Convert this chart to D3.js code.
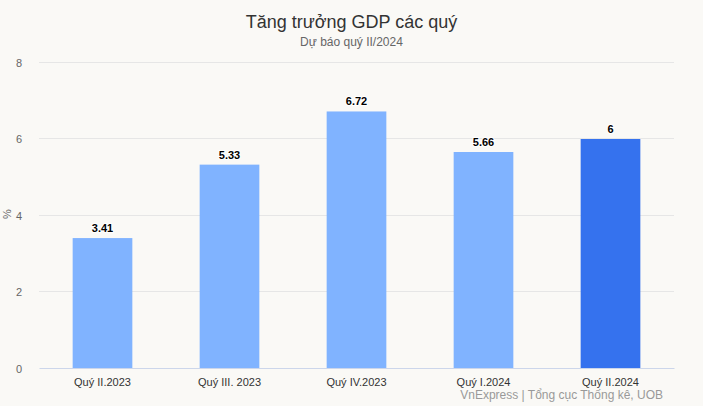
<!DOCTYPE html>
<html><head><meta charset="utf-8">
<script src="https://cdn.jsdelivr.net/npm/d3@7"></script>
<style>body{margin:0;background:#faf9f6;font-family:"Liberation Sans",Arial,sans-serif;}</style>
</head><body><svg id="c" width="703" height="406"></svg>
<script>
const categories = ["Quý II.2023","Quý III. 2023","Quý IV.2023","Quý I.2024","Quý II.2024"];
const values = [3.41, 5.33, 6.72, 5.66, 6];
const labels = ["3.41","5.33","6.72","5.66","6"];
const yTicks = [0,2,4,6,8];
const barColors = ["#80b3ff","#80b3ff","#80b3ff","#80b3ff","#3572ee"];

(function(){
const svg = d3.select("#c");
svg.append("rect").attr("width",703).attr("height",406).attr("fill","#faf9f6");
const mL = 39, mR = 674, mT = 62.5, mB = 368.5;
const x = d3.scaleBand().domain(categories).range([mL,mR]).paddingInner(0.53).paddingOuter(0.265);
const y = d3.scaleLinear().domain([0,8]).range([mB,mT]);

svg.append("g").selectAll("line").data(yTicks.filter(d=>d>0)).join("line")
  .attr("x1",mL).attr("x2",mR).attr("y1",d=>Math.round(y(d))-0.5).attr("y2",d=>Math.round(y(d))-0.5)
  .attr("stroke","#e6e6e6").attr("stroke-width",1);

const yAxis = svg.append("g").attr("transform",`translate(${mL},0)`)
  .call(d3.axisLeft(y).tickValues(yTicks).tickSize(0).tickPadding(17));
yAxis.select(".domain").remove();
yAxis.selectAll("text").attr("fill","#666").style("font-size","11px").style("font-family","Liberation Sans, Arial");

svg.append("text").attr("transform","translate(11,214) rotate(-90)").attr("text-anchor","middle")
  .attr("fill","#666").style("font-size","11px").text("%");

svg.append("g").selectAll("rect").data(values).join("rect")
  .attr("x",(d,i)=>x(categories[i])).attr("width",x.bandwidth())
  .attr("y",d=>y(d)).attr("height",d=>mB-y(d))
  .attr("fill",(d,i)=>barColors[i]);

const xAxis = svg.append("g").attr("transform",`translate(0,${mB-0.5})`)
  .call(d3.axisBottom(x).tickSize(0).tickPadding(10));
xAxis.select(".domain").attr("stroke","#ccd6eb");
xAxis.selectAll("text").attr("fill","#333").style("font-size","11px").style("font-family","Liberation Sans, Arial");

svg.append("g").selectAll("text").data(values).join("text")
  .attr("x",(d,i)=>x(categories[i])+x.bandwidth()/2).attr("y",d=>y(d)-6)
  .attr("text-anchor","middle").attr("fill","#000").style("font-size","11px").style("font-weight","bold")
  .style("stroke","#fff").style("stroke-width","2px").style("paint-order","stroke")
  .text((d,i)=>labels[i]);

svg.append("text").attr("x",351.5).attr("y",28).attr("text-anchor","middle").attr("fill","#333")
  .style("font-size","18px").text("Tăng trưởng GDP các quý");
svg.append("text").attr("x",351.5).attr("y",46).attr("text-anchor","middle").attr("fill","#666")
  .style("font-size","12px").text("Dự báo quý II/2024");
svg.append("text").attr("x",663).attr("y",399).attr("text-anchor","end").attr("fill","#999")
  .style("font-size","12px").text("VnExpress | Tổng cục Thống kê, UOB");
})();
</script></body></html>
